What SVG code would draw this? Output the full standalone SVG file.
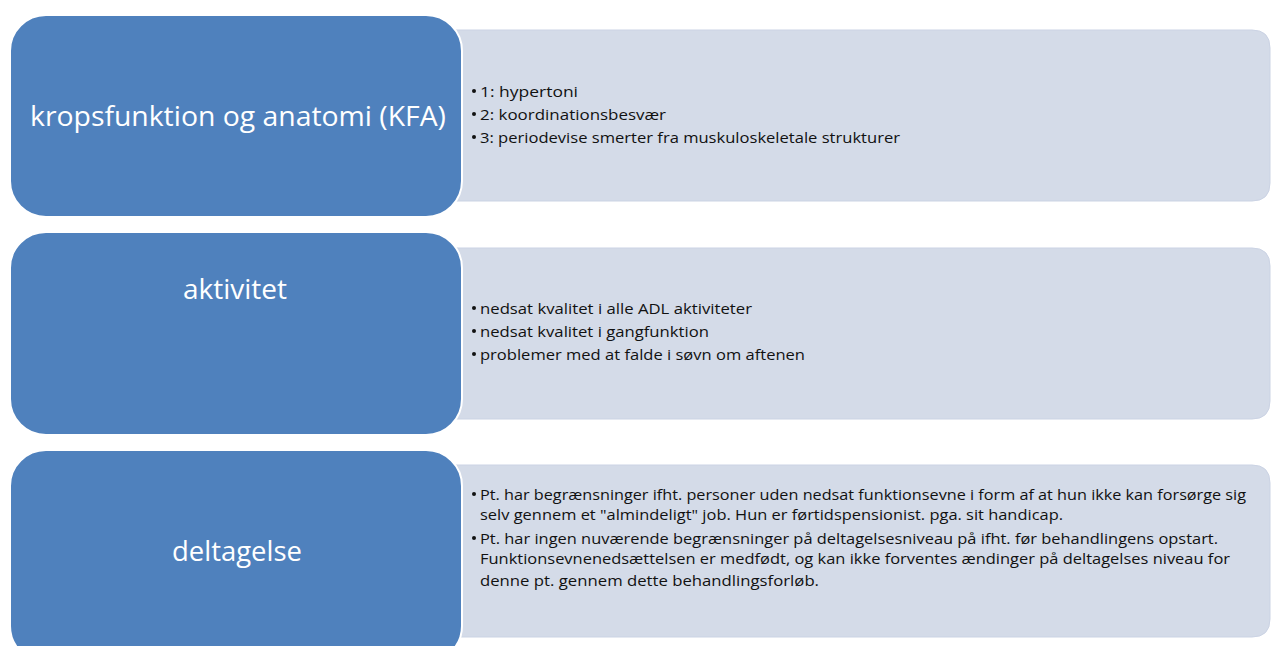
<svg xmlns="http://www.w3.org/2000/svg" width="1272" height="646" viewBox="0 0 1272 646">
<style>
.panel{fill:#D4DBE8;stroke:#CBD3E4;stroke-width:1}
.head{fill:#4F81BD;stroke:#FFFFFF;stroke-width:2}
.title{font-family:"Open Sans","Liberation Sans",Arial,sans-serif;font-size:28px;fill:#FFFFFF;text-anchor:middle}
.item{font-family:"Open Sans","Liberation Sans",Arial,sans-serif;font-size:14px;fill:#111111}
.bul{fill:#111111}
</style>
<rect width="1272" height="646" fill="#FFFFFF"/>
<g id="row-kfa">
<path class="panel" d="M440 30 H1252 Q1270 30 1270 48 V183 Q1270 201 1252 201 H440 Z"/>
<rect class="head" x="10" y="15" width="452" height="202" rx="36" ry="36"/>
<text class="title" x="238" y="126" textLength="416" lengthAdjust="spacingAndGlyphs">kropsfunktion og anatomi (KFA)</text>
<circle class="bul" cx="474" cy="91" r="2"/>
<text class="item" x="480" y="97" textLength="98" lengthAdjust="spacingAndGlyphs">1: hypertoni</text>
<circle class="bul" cx="474" cy="114" r="2"/>
<text class="item" x="480" y="120" textLength="186" lengthAdjust="spacingAndGlyphs">2: koordinationsbesvær</text>
<circle class="bul" cx="474" cy="137" r="2"/>
<text class="item" x="480" y="143" textLength="420" lengthAdjust="spacingAndGlyphs">3: periodevise smerter fra muskuloskeletale strukturer</text>
</g>
<g id="row-aktivitet">
<path class="panel" d="M440 248 H1252 Q1270 248 1270 266 V401 Q1270 419 1252 419 H440 Z"/>
<rect class="head" x="10" y="232" width="452" height="203" rx="36" ry="36"/>
<text class="title" x="235" y="299" textLength="104" lengthAdjust="spacingAndGlyphs">aktivitet</text>
<circle class="bul" cx="474" cy="308" r="2"/>
<text class="item" x="480" y="314" textLength="272" lengthAdjust="spacingAndGlyphs">nedsat kvalitet i alle  ADL aktiviteter</text>
<circle class="bul" cx="474" cy="331" r="2"/>
<text class="item" x="480" y="337" textLength="229" lengthAdjust="spacingAndGlyphs">nedsat kvalitet i gangfunktion</text>
<circle class="bul" cx="474" cy="354" r="2"/>
<text class="item" x="480" y="360" textLength="325" lengthAdjust="spacingAndGlyphs">problemer med at falde i søvn om aftenen</text>
</g>
<g id="row-deltagelse">
<path class="panel" d="M440 465 H1252 Q1270 465 1270 483 V619 Q1270 637 1252 637 H440 Z"/>
<rect class="head" x="10" y="450" width="452" height="212" rx="36" ry="36"/>
<text class="title" x="237" y="561" textLength="130" lengthAdjust="spacingAndGlyphs">deltagelse</text>
<circle class="bul" cx="474" cy="494" r="2"/>
<text class="item" x="480" y="500" textLength="766" lengthAdjust="spacingAndGlyphs">Pt. har begrænsninger ifht. personer uden nedsat funktionsevne i form af at hun ikke kan forsørge sig</text>
<text class="item" x="480" y="520" textLength="583" lengthAdjust="spacingAndGlyphs">selv gennem et "almindeligt" job. Hun er førtidspensionist. pga. sit handicap.</text>
<circle class="bul" cx="474" cy="538" r="2"/>
<text class="item" x="480" y="544" textLength="738" lengthAdjust="spacingAndGlyphs">Pt. har ingen nuværende begrænsninger på deltagelsesniveau på ifht. før behandlingens opstart.</text>
<text class="item" x="480" y="564" textLength="750" lengthAdjust="spacingAndGlyphs">Funktionsevnenedsættelsen er medfødt, og kan ikke forventes ændinger på deltagelses niveau for</text>
<text class="item" x="480" y="586" textLength="339" lengthAdjust="spacingAndGlyphs">denne pt. gennem dette behandlingsforløb.</text>
</g>
</svg>
